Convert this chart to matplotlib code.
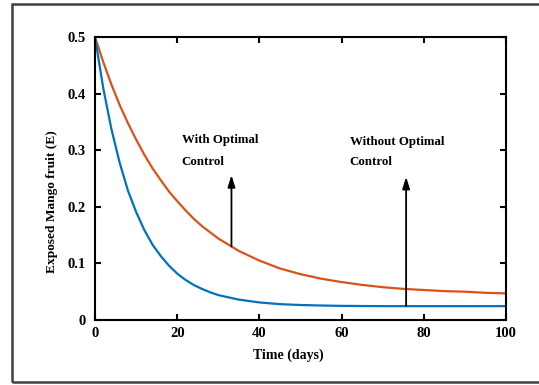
import matplotlib.pyplot as plt
from matplotlib.patches import Rectangle

# values
time_days = [0, 2, 4, 6, 8, 10, 12, 14, 16, 18, 20, 22, 24, 26, 28, 30,
             35, 40, 45, 50, 55, 60, 65, 70, 75, 80, 85, 90, 95, 100]
with_control = [0.500, 0.410, 0.337, 0.278, 0.229, 0.191, 0.159, 0.133, 0.113, 0.096,
                0.082, 0.071, 0.062, 0.055, 0.049, 0.044, 0.036, 0.031, 0.028, 0.0265,
                0.0256, 0.0250, 0.0247, 0.0245, 0.0245, 0.0245, 0.0245, 0.0245, 0.0245, 0.0245]
without_control = [0.500, 0.456, 0.416, 0.380, 0.348, 0.319, 0.292, 0.268, 0.247, 0.227,
                   0.210, 0.194, 0.179, 0.166, 0.155, 0.144, 0.122, 0.105, 0.091, 0.081,
                   0.073, 0.067, 0.062, 0.058, 0.055, 0.053, 0.051, 0.050, 0.048, 0.047]
x_ticks = [0, 20, 40, 60, 80, 100]
y_ticks = [0, 0.1, 0.2, 0.3, 0.4, 0.5]
y_tick_labels = ["0", "0.1", "0.2", "0.3", "0.4", "0.5"]

plt.rcParams["font.family"] = ["Liberation Serif", "DejaVu Serif"]
plt.rcParams["font.weight"] = "bold"

fig = plt.figure(figsize=(5.39, 3.85), dpi=100)
fig.patches.append(Rectangle((12 / 539, 1 - 382 / 385), 1.0, 378 / 385,
                             transform=fig.transFigure, fill=False,
                             edgecolor="#404040", linewidth=1.8))

ax = fig.add_axes([95 / 539, 1 - 320 / 385, 411 / 539, 283 / 385])
ax.plot(time_days, without_control, color="#D95319", linewidth=1.6)
ax.plot(time_days, with_control, color="#0072BD", linewidth=1.6)

ax.set_xlim(0, 100)
ax.set_ylim(0, 0.5)
ax.set_xticks(x_ticks)
ax.set_yticks(y_ticks)
ax.set_yticklabels(y_tick_labels)
ax.tick_params(direction="in", top=True, right=True, length=4, width=1.5,
               labelsize=10.5)
ax.tick_params(axis="y", pad=7)
ax.tick_params(axis="x", pad=5)
for spine in ax.spines.values():
    spine.set_linewidth(1.5)

ax.set_xlabel("Time (days)", fontsize=10, fontweight="bold", va="center")
ax.xaxis.set_label_coords(0.47, -0.124)
ax.set_ylabel("Exposed Mango fruit (E)", fontsize=9.6, fontweight="bold", va="center")
ax.yaxis.set_label_coords(-0.105, 0.417)

arrow = dict(arrowstyle="-|>,head_length=0.7,head_width=0.22", color="black",
             linewidth=1.3, shrinkA=0, shrinkB=0)
ax.annotate("", xy=(33.2, 0.256), xytext=(33.2, 0.130), arrowprops=arrow)
ax.annotate("", xy=(75.7, 0.253), xytext=(75.7, 0.0245), arrowprops=arrow)

ax.text(21.1, 0.318, "With Optimal", fontsize=9.3, fontweight="bold", va="center")
ax.text(21.1, 0.280, "Control", fontsize=9.3, fontweight="bold", va="center")
ax.text(62.0, 0.314, "Without Optimal", fontsize=9.3, fontweight="bold", va="center")
ax.text(62.0, 0.280, "Control", fontsize=9.3, fontweight="bold", va="center")

fig.savefig("out.png", dpi=100)
